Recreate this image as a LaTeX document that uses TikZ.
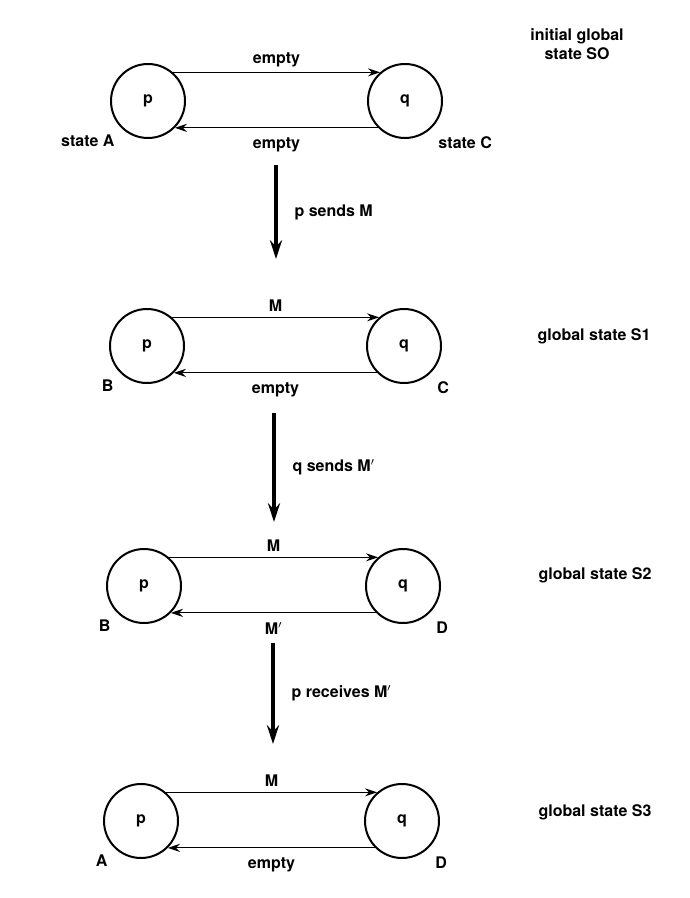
\documentclass[tikz,border=0pt]{standalone}
\usepackage{fontspec}
\setmainfont{TeX Gyre Heros}
\usepackage{tikz}
\usetikzlibrary{arrows.meta}

\tikzset{
  proc/.style={draw, circle, line width=1.5pt, minimum size=55.5pt, inner sep=0pt},
  chan/.style={line width=0.9pt, -{Stealth[length=9pt,width=6pt]}},
  move/.style={line width=2.3pt, -{Stealth[length=14pt,width=9pt]}},
  lbl/.style={inner sep=0.75pt, font=\bfseries\fontsize{12}{14}\selectfont}
}

\begin{document}
\begin{tikzpicture}[x=0.75pt,y=0.75pt,yscale=-1,xscale=1]
  \useasboundingbox (0,0) rectangle (689,898);

  % rows: index / y / x of p / x of q / top label / bottom label / left / right
  \foreach \i/\y/\px/\qx/\tl/\bl/\lft/\rgt in {%
      0/101/148/405/empty/empty/state A/state C,
      1/346/147/404/M/empty/B/C,
      2/586/144/403/M/M$'$/B/D,
      3/821/141/402/M/empty/A/D} {
    \node[proc] (p\i) at (\px,\y) {};
    \node[proc] (q\i) at (\qx,\y) {};
    \node[lbl] (pl\i) at (\px,\y) {p};
    \node[lbl] (ql\i) at (\qx,\y) {q};
    \draw[chan] (p\i.49) -- (q\i.131) node[lbl, midway, above=3pt] (top\i) {\tl};
    \draw[chan] (q\i.-135) -- (p\i.-45) node[lbl, midway, below=6pt] (bot\i) {\bl};
    \node[lbl, anchor=north east] (ls\i) at ([xshift=-4pt,yshift=-2pt]p\i.-135 |- bot\i.north) {\lft};
    \node[lbl, anchor=north west] (rs\i) at ([xshift=4pt]q\i.-45 |- bot\i.north) {\rgt};
  }

  % global states
  \node[lbl, align=center] (g0) at (577,44) {initial global\\state SO};
  \node[lbl] (g1) at (594,336) {global state S1};
  \node[lbl] (g2) at (595,575) {global state S2};
  \node[lbl] (g3) at (595,812) {global state S3};

  % transitions
  \coordinate (a0) at (276,165); \coordinate (b0) at (276,259);
  \coordinate (a1) at (274,413); \coordinate (b1) at (274,522);
  \coordinate (a2) at (273,643); \coordinate (b2) at (273,744);
  \draw[move] (a0) -- (b0) node[lbl, midway, right=12pt] (t0) {p sends M};
  \draw[move] (a1) -- (b1) node[lbl, midway, right=12pt] (t1) {q sends M$'$};
  \draw[move] (a2) -- (b2) node[lbl, midway, right=12pt] (t2) {p receives M$'$};
\end{tikzpicture}
\end{document}
